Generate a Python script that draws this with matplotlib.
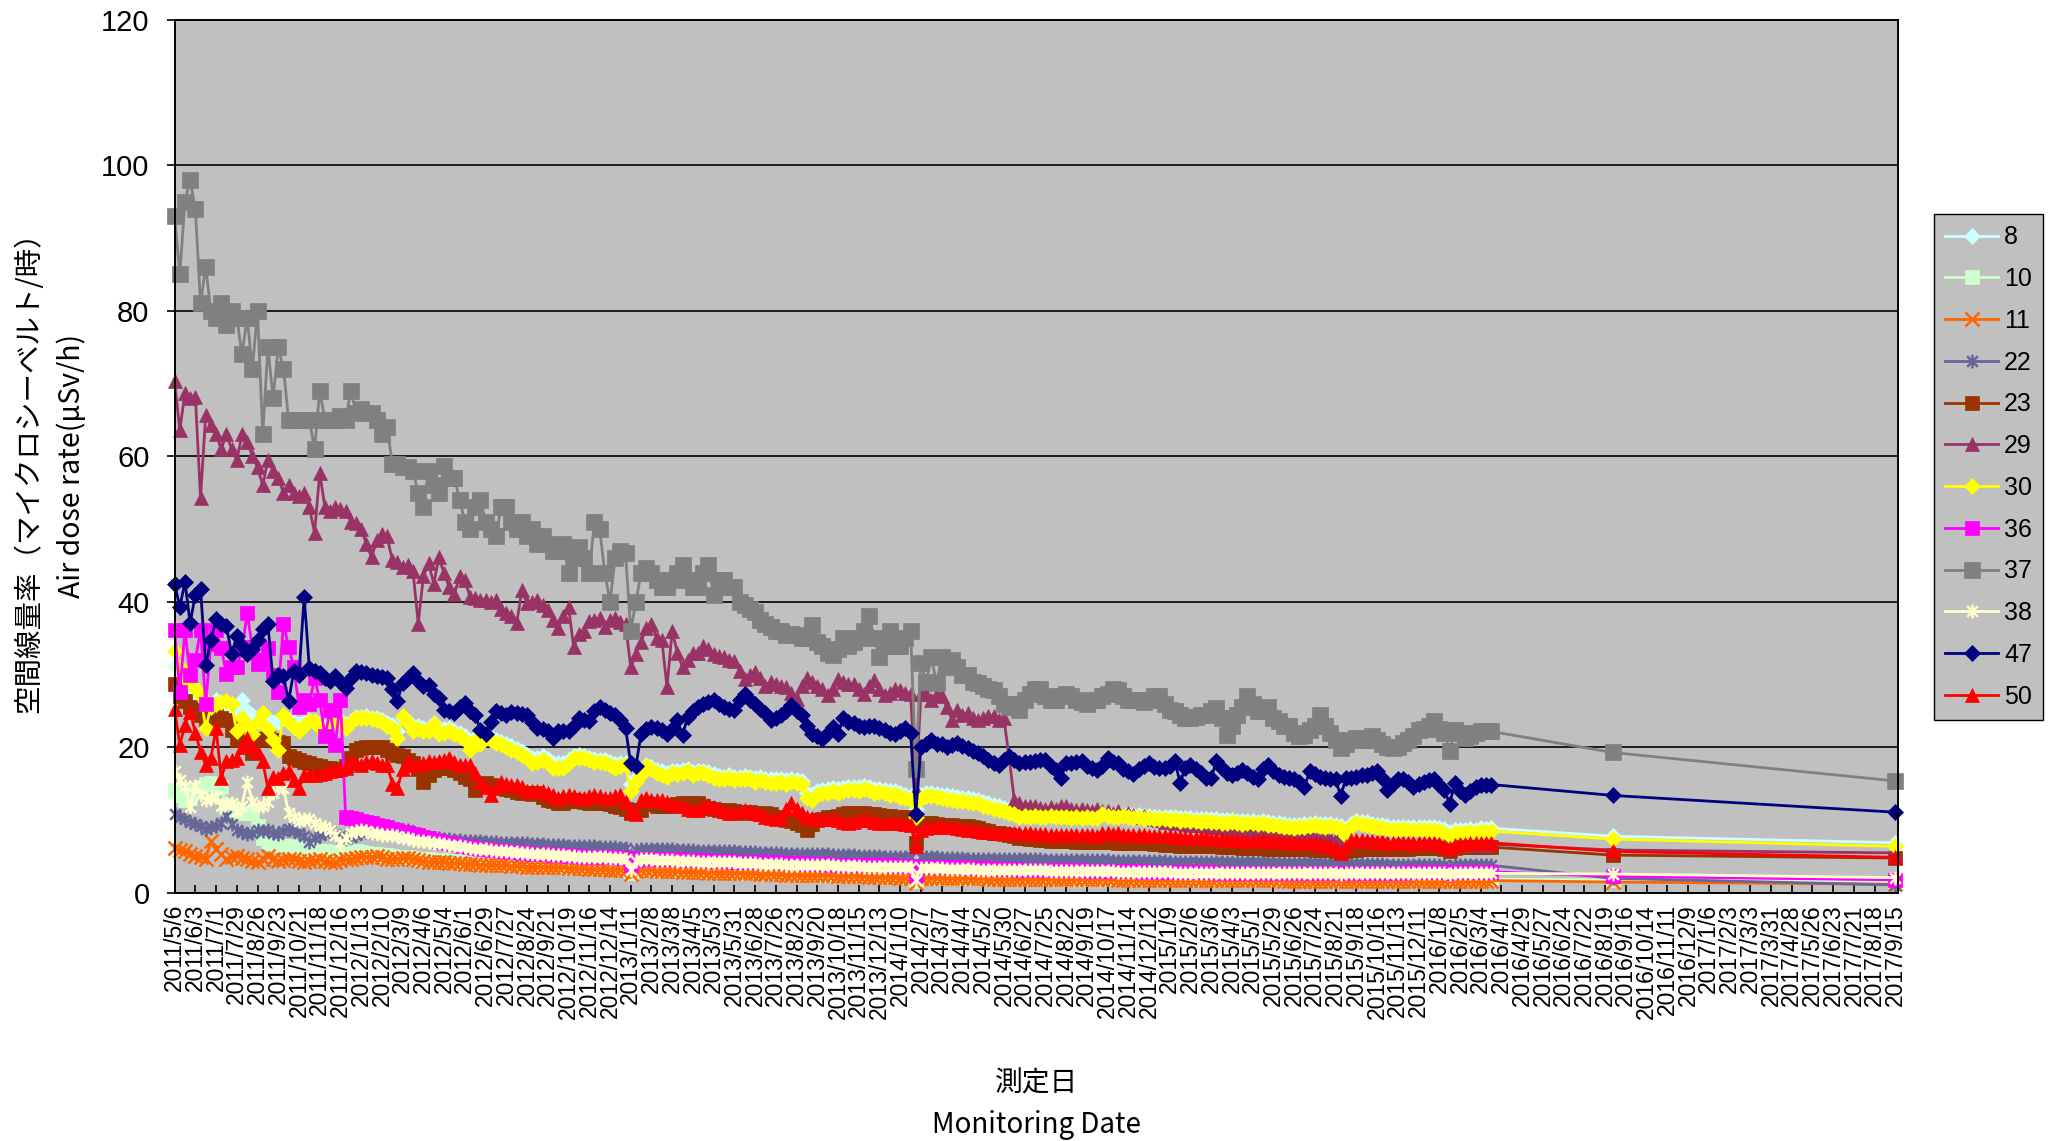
import pandas as pd
import matplotlib
matplotlib.use("Agg")
import matplotlib.pyplot as plt
from matplotlib.path import Path

plt.rcParams['font.family'] = ['Liberation Sans', 'Noto Sans CJK JP', 'DejaVu Sans']

# -------------------------
# Data: weekly readings from 2011/5/6 (255 weeks), then two later readings
# -------------------------
first_day = "2011-05-06"
n_weekly = 255
late_dates = ["2016-08-29", "2017-09-14"]
tick_first, tick_last = "2011-05-06", "2017-09-15"

stations = ["8", "10", "11", "22", "23", "29", "30", "36", "37", "38", "47", "50"]
colors = ["#CCFFFF", "#CCFFCC", "#FF6600", "#666699", "#993300", "#993366",
          "#FFFF00", "#FF00FF", "#808080", "#FFFFCC", "#000080", "#FF0000"]

s8 = [
    31.2, 29.0, 28.0, 27.3, 27.0, 26.5, 26.0, 25.8, 26.5, 26.0, 25.5, 25.0, 24.8, 26.5, 25.0,
    24.5, 24.0, 24.2, 23.8, 23.5, 23.5, 24.0, 23.8, 23.5, 23.2, 23.5, 23.8, 23.6, 23.2, 22.8,
    23.4, 24.0, 23.7, 23.2, 23.6, 24.2, 24.2, 24.3, 24.1, 24.0, 23.8, 23.4, 23.1, 22.2, 24.0,
    23.6, 22.8, 22.9, 22.6, 22.7, 23.3, 22.4, 22.5, 22.6, 22.3, 22.0, 21.6, 20.8, 21.3, 21.0,
    21.9, 21.4, 21.0, 20.8, 20.5, 20.2, 19.8, 19.5, 19.0, 18.5, 18.6, 18.8, 18.4, 17.9, 17.8,
    17.8, 18.2, 18.8, 18.9, 18.8, 18.6, 18.4, 18.3, 18.2, 18.0, 17.7, 17.8, 17.9, 15.0, 15.8,
    16.8, 17.6, 17.3, 16.9, 16.7, 16.5, 16.8, 16.7, 16.9, 17.0, 16.6, 16.8, 16.8, 16.6, 16.3,
    16.1, 16.0, 16.2, 16.0, 16.0, 16.1, 16.0, 15.8, 15.9, 15.7, 15.6, 15.6, 15.7, 15.5, 15.6,
    15.5, 15.4, 13.8, 13.6, 14.0, 14.2, 14.3, 14.4, 14.3, 14.4, 14.6, 14.6, 14.5, 14.7, 14.6,
    14.3, 14.3, 14.1, 14.0, 14.0, 13.7, 13.5, 13.3, 11.5, 13.4, 13.7, 13.7, 13.6, 13.5, 13.4,
    13.3, 13.2, 13.1, 13.0, 12.9, 12.8, 12.5, 12.3, 12.1, 11.9, 11.7, 11.5, 11.3, 11.1, 11.1,
    11.0, 11.1, 11.0, 10.9, 11.0, 10.9, 10.9, 10.9, 10.8, 10.8, 10.7, 10.8, 10.7, 10.7, 11.0,
    10.9, 10.9, 10.8, 10.9, 10.8, 10.7, 10.7, 10.6, 10.6, 10.5, 10.5, 10.5, 10.4, 10.4, 10.3,
    10.3, 10.3, 10.2, 10.2, 10.2, 10.1, 10.1, 10.0, 10.0, 10.0, 9.9, 9.9, 9.9, 9.9, 9.8,
    9.9, 9.7, 9.6, 9.6, 9.5, 9.4, 9.3, 9.4, 9.5, 9.5, 9.6, 9.5, 9.5, 9.5, 9.3,
    9.2, 8.6, 9.5, 9.9, 9.8, 9.7, 9.5, 9.4, 9.3, 9.2, 9.1, 9.1, 9.1, 9.0, 9.1,
    9.0, 9.1, 9.1, 9.0, 8.9, 8.8, 8.4, 8.6, 8.7, 8.6, 8.8, 8.7, 8.9, 8.8, 8.9,
    7.8, 6.9,
]
s10 = [
    14.2, 13.5, 12.8, 13.0, 14.0, 14.5, 15.0, 15.1, 15.0, 14.5, 11.8, 11.5, 11.0, 11.0, 11.0,
    11.0, 9.2, 7.5, 7.0, 6.8, 6.6, 6.5, 6.4, 6.3, 6.2, 6.1, 6.0, 5.9, 5.8, 5.7,
    5.6, 5.5, 5.5, 5.6, 5.6, 5.7, 5.6, 5.5, 5.4, 5.3, 5.2, 5.2, 5.1, 5.0, 5.0,
    4.9, 4.8, 4.7, 4.6, 4.6, 4.5, 4.5, 4.5, 4.4, 4.4, 4.3, 4.3, 4.3, 4.2, 4.2,
    4.2, 4.1, 4.1, 4.1, 4.0, 4.0, 4.0, 3.9, 3.9, 3.9, 3.8, 3.8, 3.8, 3.7, 3.7,
    3.7, 3.6, 3.6, 3.6, 3.6, 3.5, 3.5, 3.5, 3.5, 3.4, 3.4, 3.4, 3.3, 2.8, 3.2,
    3.3, 3.3, 3.3, 3.2, 3.2, 3.2, 3.2, 3.1, 3.1, 3.1, 3.1, 3.0, 3.0, 3.0, 3.0,
    3.0, 2.9, 2.9, 2.9, 2.9, 2.8, 2.8, 2.8, 2.8, 2.8, 2.7, 2.7, 2.7, 2.7, 2.6,
    2.6, 2.6, 2.6, 2.6, 2.5, 2.5, 2.5, 2.5, 2.5, 2.4, 2.4, 2.4, 2.4, 2.4, 2.3,
    2.3, 2.3, 2.3, 2.3, 2.3, 2.2, 2.2, 2.2, 1.6, 2.2, 2.2, 2.2, 2.1, 2.1, 2.1,
    2.1, 2.1, 2.1, 2.1, 2.0, 2.0, 2.0, 2.0, 2.0, 2.0, 2.0, 2.0, 2.0, 2.0, 2.0,
    2.0, 2.0, 2.0, 2.0, 2.0, 2.0, 1.9, 1.9, 1.9, 1.9, 1.9, 1.9, 1.9, 1.9, 1.9,
    1.9, 1.9, 1.9, 1.9, 1.9, 1.9, 1.9, 1.9, 1.9, 1.9, 1.9, 1.9, 1.9, 1.9, 1.9,
    1.9, 1.9, 1.9, 1.9, 1.9, 1.9, 1.9, 1.9, 1.9, 1.9, 1.9, 1.9, 1.9, 1.9, 1.9,
    1.9, 1.9, 1.9, 1.9, 1.9, 1.9, 1.9, 1.9, 1.9, 1.9, 1.9, 1.9, 1.9, 1.9, 1.9,
    1.8, 1.9, 1.9, 1.9, 1.9, 1.9, 1.9, 1.9, 1.9, 1.9, 1.9, 1.9, 1.9, 1.9, 1.9,
    1.9, 1.9, 1.9, 1.9, 1.9, 1.9, 1.8, 1.9, 1.9, 1.9, 1.9, 1.9, 1.9, 1.9, 1.9,
    1.8, 1.5,
]
s11 = [
    6.2, 5.9, 5.7, 5.3, 5.1, 4.9, 4.6, 7.1, 6.0, 5.3, 4.6, 4.9, 5.1, 4.8, 4.6,
    4.4, 4.2, 4.6, 5.1, 4.7, 4.4, 4.5, 4.6, 4.6, 4.4, 4.2, 4.4, 4.5, 4.6, 4.4,
    4.2, 4.3, 4.5, 4.6, 4.7, 4.8, 4.9, 4.9, 5.0, 5.1, 4.9, 4.7, 4.6, 4.7, 4.8,
    4.8, 4.6, 4.5, 4.4, 4.3, 4.3, 4.2, 4.2, 4.1, 4.1, 4.1, 4.0, 4.0, 4.0, 3.9,
    3.9, 3.9, 3.8, 3.8, 3.8, 3.7, 3.7, 3.7, 3.6, 3.6, 3.6, 3.6, 3.5, 3.5, 3.5,
    3.5, 3.4, 3.4, 3.4, 3.4, 3.3, 3.3, 3.3, 3.3, 3.2, 3.2, 3.2, 3.2, 2.6, 3.0,
    3.1, 3.1, 3.1, 3.0, 3.0, 3.0, 3.0, 3.0, 2.9, 2.9, 2.9, 2.9, 2.9, 2.8, 2.8,
    2.8, 2.8, 2.8, 2.7, 2.7, 2.7, 2.7, 2.7, 2.6, 2.6, 2.6, 2.6, 2.6, 2.5, 2.5,
    2.5, 2.5, 2.5, 2.4, 2.4, 2.4, 2.4, 2.4, 2.3, 2.3, 2.3, 2.3, 2.3, 2.3, 2.2,
    2.2, 2.2, 2.2, 2.2, 2.2, 2.1, 2.1, 2.1, 1.4, 2.1, 2.1, 2.1, 2.0, 2.0, 2.0,
    2.0, 2.0, 2.0, 2.0, 2.0, 2.0, 2.0, 1.9, 1.9, 1.9, 1.9, 1.9, 1.9, 1.9, 1.9,
    1.9, 1.9, 1.9, 1.9, 1.9, 1.9, 1.9, 1.9, 1.9, 1.9, 1.9, 1.9, 1.9, 1.9, 1.9,
    1.9, 1.9, 1.8, 1.8, 1.8, 1.8, 1.8, 1.8, 1.8, 1.8, 1.8, 1.8, 1.8, 1.8, 1.8,
    1.8, 1.8, 1.8, 1.8, 1.8, 1.8, 1.8, 1.8, 1.8, 1.8, 1.8, 1.8, 1.8, 1.8, 1.8,
    1.8, 1.8, 1.8, 1.8, 1.7, 1.7, 1.7, 1.7, 1.7, 1.7, 1.7, 1.7, 1.7, 1.7, 1.7,
    1.6, 1.7, 1.7, 1.7, 1.7, 1.7, 1.7, 1.7, 1.7, 1.7, 1.7, 1.7, 1.7, 1.7, 1.7,
    1.7, 1.7, 1.7, 1.7, 1.7, 1.7, 1.6, 1.7, 1.7, 1.7, 1.7, 1.7, 1.7, 1.7, 1.7,
    1.5, 1.2,
]
s22 = [
    10.9, 10.5, 10.2, 9.8, 9.5, 9.2, 8.8, 9.0, 9.2, 9.6, 10.6, 9.5, 8.6, 8.4, 8.1,
    8.3, 8.6, 8.5, 8.6, 8.3, 8.1, 8.5, 8.8, 8.5, 8.3, 7.8, 7.0, 7.5, 7.9, 8.2,
    8.6, 8.1, 7.8, 7.4, 7.7, 7.9, 8.2, 8.5, 8.8, 8.8, 8.6, 9.2, 8.8, 8.5, 8.3,
    8.6, 8.2, 8.0, 7.8, 7.7, 7.6, 7.5, 7.4, 7.4, 7.3, 7.3, 7.2, 7.2, 7.1, 7.1,
    7.0, 7.0, 7.0, 6.9, 6.9, 6.9, 6.8, 6.8, 6.8, 6.7, 6.7, 6.7, 6.6, 6.6, 6.6,
    6.6, 6.5, 6.5, 6.5, 6.4, 6.4, 6.4, 6.3, 6.3, 6.3, 6.3, 6.2, 6.2, 5.2, 5.9,
    6.1, 6.1, 6.1, 6.0, 6.0, 6.0, 6.0, 5.9, 5.9, 5.9, 5.9, 5.8, 5.8, 5.8, 5.8,
    5.7, 5.7, 5.7, 5.7, 5.6, 5.6, 5.6, 5.6, 5.5, 5.5, 5.5, 5.5, 5.5, 5.4, 5.4,
    5.4, 5.4, 5.3, 5.3, 5.3, 5.3, 5.3, 5.2, 5.2, 5.2, 5.2, 5.2, 5.1, 5.1, 5.1,
    5.1, 5.1, 5.0, 5.0, 5.0, 5.0, 5.0, 5.0, 3.5, 4.9, 4.9, 4.9, 4.9, 4.8, 4.8,
    4.8, 4.8, 4.8, 4.7, 4.7, 4.7, 4.7, 4.7, 4.6, 4.6, 4.6, 4.6, 4.6, 4.6, 4.6,
    4.6, 4.6, 4.6, 4.5, 4.5, 4.5, 4.5, 4.5, 4.5, 4.5, 4.5, 4.5, 4.5, 4.5, 4.5,
    4.5, 4.4, 4.4, 4.4, 4.4, 4.4, 4.4, 4.4, 4.4, 4.4, 4.4, 4.4, 4.3, 4.3, 4.3,
    4.3, 4.3, 4.3, 4.3, 4.3, 4.3, 4.3, 4.2, 4.2, 4.2, 4.2, 4.2, 4.2, 4.2, 4.2,
    4.2, 4.2, 4.1, 4.1, 4.1, 4.1, 4.1, 4.1, 4.1, 4.1, 4.1, 4.1, 4.1, 4.0, 4.0,
    3.8, 4.0, 4.0, 4.0, 4.0, 4.0, 4.0, 4.0, 4.0, 3.9, 3.9, 3.9, 3.9, 3.9, 3.9,
    3.9, 3.9, 3.9, 3.9, 3.9, 3.8, 3.6, 3.8, 3.8, 3.8, 3.8, 3.8, 3.8, 3.8, 3.8,
    2.0, 1.1,
]
s23 = [
    28.7, 27.0, 26.4, 25.5, 25.2, 24.5, 23.8, 24.2, 24.7, 24.0, 23.8, 22.4, 21.0, 22.9, 20.5,
    19.2, 21.0, 21.2, 21.5, 21.0, 20.8, 20.6, 18.8, 18.5, 18.3, 18.0, 17.8, 17.6, 17.4, 17.2,
    17.1, 16.9, 17.0, 17.4, 18.5, 19.7, 19.9, 20.1, 20.1, 20.0, 20.1, 19.7, 19.2, 19.0, 18.8,
    18.3, 17.8, 17.0, 15.3, 16.2, 16.9, 17.2, 17.4, 17.1, 16.9, 16.5, 16.0, 15.6, 14.2, 14.8,
    15.1, 14.8, 14.6, 14.4, 14.3, 14.2, 13.9, 13.7, 13.7, 13.6, 13.7, 13.2, 12.8, 12.6, 12.4,
    12.4, 12.6, 12.8, 12.7, 12.5, 12.4, 12.4, 12.4, 12.4, 12.2, 11.9, 11.8, 11.5, 11.0, 11.4,
    11.4, 12.3, 12.2, 12.0, 11.9, 11.9, 12.1, 12.2, 12.3, 12.4, 12.4, 12.3, 12.0, 11.7, 11.5,
    11.4, 11.3, 11.4, 11.2, 11.1, 11.0, 11.1, 11.0, 10.8, 11.0, 10.8, 10.5, 10.3, 10.0, 9.9,
    9.6, 9.4, 8.7, 9.5, 10.0, 10.2, 10.4, 10.5, 10.6, 10.8, 11.0, 11.0, 11.0, 11.0, 10.9,
    10.8, 10.7, 10.6, 10.6, 10.5, 10.5, 10.4, 10.3, 6.9, 9.4, 9.6, 9.6, 9.5, 9.4, 9.3,
    9.3, 9.2, 9.2, 9.2, 9.0, 8.9, 8.7, 8.5, 8.3, 8.2, 8.1, 8.0, 7.8, 7.6, 7.5,
    7.4, 7.4, 7.3, 7.3, 7.2, 7.2, 7.1, 7.1, 7.1, 7.0, 7.0, 7.0, 7.0, 7.0, 7.0,
    7.0, 7.0, 6.9, 6.9, 6.9, 6.9, 6.8, 6.8, 6.8, 6.7, 6.7, 6.6, 6.6, 6.6, 6.5,
    6.5, 6.5, 6.5, 6.4, 6.4, 6.4, 6.4, 6.3, 6.3, 6.3, 6.3, 6.2, 6.2, 6.2, 6.2,
    6.2, 6.1, 6.1, 6.1, 6.1, 6.0, 6.0, 6.0, 6.0, 6.0, 5.9, 5.9, 5.9, 5.9, 5.8,
    5.6, 5.8, 5.9, 5.9, 6.0, 6.0, 6.0, 6.0, 6.1, 6.1, 6.1, 6.1, 6.1, 6.1, 6.2,
    6.2, 6.2, 6.2, 6.2, 6.2, 6.1, 5.8, 6.2, 6.3, 6.3, 6.3, 6.3, 6.3, 6.3, 6.3,
    5.2, 4.8,
]
s29 = [
    70.3, 63.6, 68.7, 68.0, 68.2, 54.3, 65.7, 64.3, 63.0, 61.0, 63.0, 61.0, 59.5, 63.0, 62.0,
    60.0, 58.5, 56.0, 59.5, 58.0, 57.0, 55.0, 56.0, 55.0, 54.5, 55.0, 53.0, 49.5, 57.7, 53.0,
    52.5, 53.0, 52.7, 52.5, 51.0, 50.8, 50.0, 48.0, 46.1, 48.5, 49.3, 49.0, 45.7, 45.5, 44.8,
    45.0, 44.2, 37.0, 43.5, 45.3, 42.5, 46.1, 43.9, 42.0, 41.1, 43.5, 43.0, 40.7, 40.5, 40.3,
    40.3, 40.0, 40.3, 39.0, 38.4, 38.0, 37.1, 41.6, 39.8, 40.0, 40.3, 39.5, 38.9, 37.5, 36.4,
    38.0, 39.3, 33.8, 35.6, 36.0, 37.3, 37.5, 37.8, 36.6, 37.5, 37.8, 37.2, 37.0, 31.0, 32.8,
    34.5, 36.4, 37.0, 35.0, 34.8, 28.3, 36.0, 33.0, 31.0, 32.0, 33.0, 33.0, 34.0, 33.5, 32.8,
    32.5, 32.4, 32.0, 31.9, 30.5, 29.4, 30.0, 30.3, 29.5, 28.5, 29.0, 28.7, 28.5, 28.3, 27.5,
    26.7, 28.5, 29.6, 29.0, 28.5, 28.0, 27.2, 28.0, 29.4, 29.0, 28.7, 28.7, 28.0, 27.4, 28.5,
    29.2, 28.0, 27.2, 27.5, 28.0, 27.9, 27.5, 27.4, 14.1, 27.4, 27.4, 26.5, 27.4, 27.0, 25.5,
    23.8, 25.2, 24.5, 24.7, 24.0, 23.8, 24.0, 24.3, 24.3, 23.8, 24.0, 18.7, 12.8, 12.3, 12.0,
    11.9, 12.0, 11.7, 11.5, 11.8, 11.6, 11.9, 11.9, 11.5, 11.4, 11.6, 11.4, 11.3, 11.5, 11.2,
    11.3, 11.0, 11.2, 10.8, 11.0, 10.7, 10.5, 10.6, 10.3, 10.2, 10.0, 9.8, 9.9, 9.6, 9.7,
    9.5, 9.4, 9.3, 9.4, 9.2, 9.0, 9.1, 8.9, 8.8, 8.9, 8.7, 8.6, 8.7, 8.5, 8.4,
    8.5, 8.3, 8.2, 8.3, 8.1, 8.0, 8.1, 7.9, 7.8, 7.9, 7.7, 7.6, 7.7, 7.5, 7.4,
    7.2, 7.4, 7.3, 7.2, 7.3, 7.1, 7.2, 7.0, 7.1, 7.0, 6.9, 7.0, 6.9, 6.8, 6.9,
    6.8, 6.9, 6.8, 6.7, 6.8, 6.6, 6.4, 6.7, 6.6, 6.7, 6.6, 6.7, 6.7, 6.6, 6.7,
    5.9, 5.5,
]
s30 = [
    33.3, 31.0, 29.6, 28.9, 28.2, 27.0, 22.7, 25.5, 25.9, 26.2, 26.4, 25.9, 22.2, 24.1, 23.0,
    21.8, 23.5, 24.7, 22.5, 21.0, 19.7, 24.5, 23.5, 22.8, 22.2, 23.0, 23.6, 23.6, 22.7, 21.8,
    23.0, 24.1, 23.5, 22.7, 23.5, 24.1, 24.0, 24.1, 23.9, 23.8, 23.5, 23.0, 22.7, 21.3, 24.3,
    23.3, 22.2, 22.5, 22.2, 22.2, 23.2, 21.8, 22.0, 22.2, 21.8, 21.5, 21.0, 19.7, 20.9, 20.5,
    21.8, 21.0, 20.6, 20.4, 20.0, 19.7, 19.3, 19.0, 18.5, 17.8, 18.0, 18.3, 17.8, 17.2, 17.2,
    17.2, 17.8, 18.5, 18.5, 18.5, 18.2, 18.0, 18.0, 17.8, 17.6, 17.2, 17.4, 17.6, 14.0, 15.2,
    16.2, 17.4, 17.0, 16.5, 16.2, 16.0, 16.5, 16.3, 16.5, 16.7, 16.2, 16.5, 16.5, 16.2, 15.8,
    15.6, 15.6, 15.8, 15.5, 15.6, 15.7, 15.6, 15.3, 15.5, 15.2, 15.1, 15.1, 15.3, 15.0, 15.2,
    15.1, 15.0, 13.0, 12.8, 13.5, 13.7, 13.8, 14.0, 13.8, 14.0, 14.2, 14.1, 14.0, 14.3, 14.2,
    13.8, 13.9, 13.7, 13.5, 13.6, 13.2, 13.0, 12.8, 10.5, 12.9, 13.3, 13.3, 13.2, 13.0, 12.9,
    12.8, 12.7, 12.6, 12.5, 12.4, 12.3, 12.0, 11.8, 11.6, 11.4, 11.2, 11.0, 10.8, 10.5, 10.6,
    10.5, 10.6, 10.5, 10.4, 10.6, 10.5, 10.4, 10.5, 10.3, 10.4, 10.3, 10.4, 10.3, 10.3, 10.8,
    10.6, 10.5, 10.4, 10.6, 10.5, 10.3, 10.4, 10.2, 10.3, 10.1, 10.1, 10.2, 10.0, 10.1, 9.9,
    10.0, 9.9, 9.9, 9.8, 9.9, 9.7, 9.8, 9.6, 9.6, 9.7, 9.6, 9.5, 9.6, 9.6, 9.5,
    9.6, 9.4, 9.3, 9.2, 9.1, 9.0, 8.9, 9.0, 9.1, 9.2, 9.3, 9.2, 9.1, 9.2, 9.0,
    8.8, 7.8, 9.2, 9.6, 9.5, 9.4, 9.2, 9.0, 8.9, 8.8, 8.7, 8.7, 8.8, 8.6, 8.7,
    8.6, 8.7, 8.7, 8.6, 8.5, 8.3, 7.8, 8.2, 8.3, 8.2, 8.4, 8.3, 8.5, 8.4, 8.5,
    7.4, 6.4,
]
s36 = [
    36.1, 27.6, 36.1, 29.9, 32.0, 36.1, 26.0, 34.2, 36.1, 33.6, 30.1, 31.0, 31.0, 33.5, 38.4,
    33.8, 31.5, 32.0, 33.6, 30.0, 27.6, 37.0, 33.8, 31.0, 25.6, 26.5, 26.0, 29.5, 26.5, 21.5,
    25.1, 20.3, 26.5, 10.5, 10.3, 10.1, 9.9, 9.8, 9.6, 9.4, 9.2, 9.0, 8.8, 8.6, 8.4,
    8.2, 8.1, 7.9, 7.7, 7.5, 7.3, 7.1, 6.9, 6.8, 6.7, 6.5, 6.4, 6.3, 6.2, 6.1,
    6.0, 5.9, 5.9, 5.8, 5.7, 5.6, 5.6, 5.5, 5.5, 5.4, 5.4, 5.3, 5.3, 5.2, 5.2,
    5.2, 5.1, 5.1, 5.1, 5.0, 5.0, 5.0, 4.9, 4.9, 4.9, 4.9, 4.8, 4.8, 3.8, 4.5,
    4.7, 4.7, 4.7, 4.7, 4.6, 4.6, 4.6, 4.6, 4.5, 4.5, 4.5, 4.5, 4.5, 4.4, 4.4,
    4.4, 4.4, 4.4, 4.3, 4.3, 4.3, 4.3, 4.2, 4.2, 4.2, 4.2, 4.2, 4.1, 4.1, 4.1,
    4.1, 4.1, 4.0, 4.0, 4.0, 4.0, 4.0, 3.9, 3.9, 3.9, 3.9, 3.9, 3.9, 3.8, 3.8,
    3.8, 3.8, 3.8, 3.8, 3.7, 3.7, 3.7, 3.7, 2.4, 3.6, 3.6, 3.6, 3.6, 3.5, 3.5,
    3.5, 3.5, 3.5, 3.4, 3.4, 3.4, 3.4, 3.4, 3.3, 3.3, 3.3, 3.3, 3.3, 3.2, 3.2,
    3.2, 3.2, 3.2, 3.2, 3.1, 3.1, 3.1, 3.1, 3.1, 3.1, 3.1, 3.0, 3.0, 3.0, 3.0,
    3.0, 3.0, 3.0, 3.0, 3.0, 3.0, 3.0, 2.9, 2.9, 2.9, 2.9, 2.9, 2.9, 2.9, 2.9,
    2.9, 2.9, 2.9, 2.9, 2.9, 2.9, 2.8, 2.8, 2.8, 2.8, 2.8, 2.8, 2.8, 2.8, 2.8,
    2.8, 2.8, 2.8, 2.8, 2.8, 2.8, 2.8, 2.8, 2.8, 2.8, 2.8, 2.8, 2.8, 2.8, 2.8,
    2.7, 2.8, 2.8, 2.8, 2.8, 2.8, 2.8, 2.8, 2.8, 2.8, 2.8, 2.8, 2.8, 2.9, 2.9,
    2.9, 2.9, 2.9, 2.9, 2.9, 2.9, 2.7, 2.9, 2.9, 2.9, 2.9, 2.9, 2.9, 2.9, 2.9,
    2.3, 1.8,
]
s37 = [
    93.0, 85.0, 95.0, 98.0, 94.0, 81.0, 86.0, 80.0, 79.0, 81.0, 78.0, 80.0, 79.0, 74.0, 79.0,
    72.0, 80.0, 63.0, 75.0, 68.0, 75.0, 72.0, 65.0, 65.0, 65.0, 65.0, 65.0, 61.0, 69.0, 65.0,
    65.0, 65.0, 65.5, 65.0, 69.0, 66.0, 66.5, 66.0, 66.0, 65.0, 63.0, 64.0, 59.0, 59.0, 58.5,
    58.5, 58.0, 55.0, 53.0, 58.0, 56.0, 55.0, 58.6, 57.0, 57.0, 54.0, 51.0, 50.0, 53.0, 54.0,
    51.0, 50.0, 49.0, 53.0, 53.0, 51.0, 50.0, 51.0, 49.0, 50.0, 48.0, 49.0, 48.0, 47.0, 47.0,
    48.0, 44.0, 46.0, 47.6, 46.0, 44.0, 51.0, 50.0, 44.0, 40.0, 46.0, 47.0, 46.7, 36.0, 40.0,
    44.0, 44.7, 44.0, 43.0, 42.0, 42.0, 43.0, 44.0, 45.0, 43.0, 42.0, 42.0, 44.0, 45.0, 41.0,
    43.0, 43.0, 42.0, 42.0, 40.0, 39.5, 39.0, 38.6, 37.5, 37.0, 36.5, 36.0, 36.0, 35.5, 35.6,
    35.5, 35.0, 35.0, 36.8, 34.5, 34.0, 33.0, 32.7, 33.5, 35.0, 34.0, 34.5, 35.0, 36.0, 38.0,
    35.0, 32.4, 34.0, 36.0, 34.0, 33.9, 35.0, 36.0, 17.0, 31.6, 29.0, 32.4, 28.8, 32.4, 31.0,
    32.0, 31.0, 30.0, 30.0, 29.0, 28.8, 28.5, 28.0, 27.9, 27.0, 26.0, 25.6, 26.0, 25.2, 26.5,
    27.4, 28.0, 28.0, 27.0, 26.5, 26.5, 27.0, 27.4, 27.0, 26.5, 26.3, 26.0, 26.5, 26.5, 27.0,
    27.4, 28.0, 27.9, 27.0, 26.5, 26.5, 26.5, 26.3, 26.5, 27.0, 27.0, 26.0, 25.2, 25.0, 24.5,
    24.0, 24.0, 24.2, 24.5, 24.5, 25.0, 25.4, 24.0, 21.7, 23.0, 24.5, 25.5, 27.0, 26.0, 25.0,
    25.0, 25.6, 24.0, 23.6, 23.0, 22.9, 22.0, 21.5, 21.7, 22.4, 23.0, 24.5, 23.0, 22.0, 21.0,
    19.9, 20.5, 21.0, 21.3, 21.0, 21.0, 21.5, 21.0, 20.5, 20.0, 19.9, 20.0, 20.6, 21.0, 21.5,
    22.4, 22.5, 23.0, 23.6, 22.5, 22.0, 19.5, 22.4, 22.0, 21.3, 21.5, 22.0, 22.2, 22.2, 22.2,
    19.3, 15.4,
]
s38 = [
    16.7, 15.5, 14.7, 11.8, 14.7, 13.5, 12.8, 13.0, 13.2, 11.9, 12.4, 12.4, 11.2, 12.0, 15.3,
    12.5, 11.9, 11.9, 12.5, 13.7, 14.4, 14.4, 11.0, 10.5, 9.9, 10.1, 10.1, 9.6, 9.2, 9.0,
    8.7, 8.0, 6.9, 7.5, 8.3, 8.5, 8.7, 8.5, 8.3, 8.2, 8.0, 7.9, 8.0, 7.8, 7.6,
    7.5, 7.3, 7.2, 7.1, 7.0, 6.9, 6.8, 6.7, 6.6, 6.5, 6.4, 6.3, 6.2, 6.1, 6.0,
    6.0, 5.9, 5.8, 5.8, 5.7, 5.6, 5.6, 5.5, 5.5, 5.4, 5.4, 5.3, 5.3, 5.2, 5.2,
    5.2, 5.1, 5.1, 5.0, 5.0, 5.0, 4.9, 4.9, 4.9, 4.8, 4.8, 4.8, 4.7, 3.2, 4.4,
    4.6, 4.6, 4.6, 4.5, 4.5, 4.5, 4.5, 4.4, 4.4, 4.4, 4.4, 4.3, 4.3, 4.3, 4.3,
    4.2, 4.2, 4.2, 4.2, 4.1, 4.1, 4.1, 4.1, 4.0, 4.0, 4.0, 4.0, 4.0, 3.9, 3.9,
    3.9, 3.9, 3.9, 3.8, 3.8, 3.8, 3.8, 3.8, 3.7, 3.7, 3.7, 3.7, 3.7, 3.6, 3.6,
    3.6, 3.6, 3.6, 3.6, 3.5, 3.5, 3.5, 3.5, 1.8, 3.4, 3.4, 3.4, 3.4, 3.4, 3.3,
    3.3, 3.3, 3.3, 3.3, 3.3, 3.2, 3.2, 3.2, 3.2, 3.2, 3.2, 3.1, 3.1, 3.1, 3.1,
    3.1, 3.1, 3.1, 3.1, 3.0, 3.0, 3.0, 3.0, 3.0, 3.0, 3.0, 3.0, 3.0, 3.0, 3.0,
    3.0, 3.0, 2.9, 2.9, 2.9, 2.9, 2.9, 2.9, 2.9, 2.9, 2.9, 2.9, 2.9, 2.8, 2.8,
    2.8, 2.8, 2.8, 2.8, 2.8, 2.8, 2.8, 2.8, 2.8, 2.8, 2.8, 2.7, 2.7, 2.7, 2.7,
    2.7, 2.7, 2.7, 2.7, 2.7, 2.7, 2.7, 2.7, 2.7, 2.7, 2.7, 2.7, 2.7, 2.7, 2.7,
    2.6, 2.7, 2.7, 2.7, 2.7, 2.7, 2.7, 2.7, 2.7, 2.7, 2.7, 2.7, 2.7, 2.7, 2.7,
    2.7, 2.7, 2.7, 2.7, 2.7, 2.7, 2.6, 2.7, 2.7, 2.7, 2.7, 2.7, 2.7, 2.7, 2.7,
    2.6, 2.1,
]
s47 = [
    42.5, 39.3, 42.7, 37.1, 41.0, 41.8, 31.3, 34.7, 37.6, 37.0, 36.7, 32.8, 35.3, 34.0, 32.8,
    33.5, 34.7, 36.2, 36.9, 29.1, 30.0, 29.8, 26.4, 30.5, 30.0, 40.7, 30.9, 30.5, 30.2, 29.5,
    29.1, 29.8, 29.0, 28.2, 29.5, 30.5, 30.3, 30.2, 30.0, 29.8, 29.7, 29.6, 28.0, 26.4, 28.9,
    29.5, 30.2, 29.1, 28.5, 28.6, 27.3, 26.8, 25.2, 25.0, 24.7, 25.5, 26.1, 25.0, 24.5, 22.4,
    21.9, 23.5, 25.0, 24.7, 24.5, 24.8, 24.7, 24.6, 24.5, 23.5, 22.7, 22.5, 22.2, 21.3, 22.2,
    22.2, 22.2, 23.0, 24.0, 23.8, 23.6, 25.0, 25.6, 25.1, 24.7, 24.5, 23.8, 22.7, 17.8, 17.4,
    21.9, 22.5, 22.8, 22.6, 22.4, 21.9, 22.5, 23.7, 21.7, 24.2, 25.0, 25.6, 26.0, 26.3, 26.5,
    26.0, 25.6, 25.3, 25.1, 26.5, 27.4, 26.5, 26.0, 25.3, 24.7, 23.8, 24.0, 24.4, 25.0, 25.8,
    25.0, 24.4, 23.0, 21.9, 21.5, 21.2, 22.0, 22.8, 21.9, 24.0, 23.5, 23.3, 23.0, 22.8, 23.0,
    23.0, 22.6, 22.4, 22.0, 21.9, 22.3, 22.6, 22.0, 10.9, 20.1, 20.5, 21.0, 20.5, 20.4, 20.1,
    20.3, 20.6, 20.2, 19.9, 19.5, 19.2, 18.8, 18.3, 17.8, 17.6, 18.3, 18.8, 18.2, 17.8, 18.0,
    18.0, 18.1, 18.2, 18.3, 17.5, 16.9, 15.8, 17.8, 17.9, 18.0, 18.1, 17.5, 17.2, 16.9, 17.5,
    18.5, 18.0, 17.8, 17.0, 16.8, 16.4, 17.0, 17.5, 17.8, 17.3, 17.1, 17.1, 17.5, 18.1, 15.1,
    17.2, 17.6, 17.0, 16.5, 15.8, 15.8, 18.1, 17.2, 16.5, 16.2, 16.5, 16.9, 16.5, 16.0, 15.6,
    17.0, 17.6, 16.8, 16.2, 16.0, 15.8, 15.6, 15.2, 14.6, 16.7, 16.4, 16.0, 15.8, 15.6, 15.6,
    13.3, 15.8, 15.8, 16.0, 16.2, 16.2, 16.5, 16.7, 15.8, 14.2, 15.0, 15.6, 15.6, 15.2, 14.6,
    15.0, 15.3, 15.5, 15.6, 14.8, 14.2, 12.2, 15.1, 14.0, 13.5, 14.0, 14.6, 14.8, 14.9, 14.9,
    13.4, 11.1,
]
s50 = [
    25.3, 20.3, 23.1, 24.9, 22.0, 19.4, 17.6, 18.5, 22.6, 15.8, 18.1, 18.3, 18.5, 20.0, 21.3,
    20.0, 19.4, 18.1, 14.4, 16.0, 15.8, 16.5, 16.7, 15.5, 14.4, 16.2, 16.2, 16.2, 16.4, 16.5,
    16.7, 16.9, 17.0, 17.2, 18.1, 17.8, 17.6, 18.0, 18.1, 17.9, 17.6, 17.6, 15.0, 14.4, 17.0,
    18.1, 17.6, 17.6, 17.9, 18.1, 18.0, 18.1, 18.3, 18.5, 18.0, 17.6, 17.6, 17.6, 16.5, 15.3,
    14.5, 13.5, 14.5, 15.3, 15.0, 14.9, 14.9, 14.5, 14.0, 14.0, 14.0, 14.0, 13.8, 13.5, 13.1,
    13.3, 13.5, 13.3, 13.1, 13.1, 13.3, 13.5, 13.3, 13.1, 13.1, 13.3, 13.5, 12.5, 11.2, 10.8,
    12.8, 13.1, 12.8, 12.8, 12.8, 12.5, 12.2, 12.0, 11.9, 11.6, 11.4, 11.4, 11.8, 12.1, 11.8,
    11.5, 11.2, 11.0, 11.0, 11.2, 11.4, 11.2, 11.0, 10.8, 10.5, 10.3, 10.1, 10.5, 11.5, 12.4,
    11.5, 11.0, 10.5, 10.3, 10.1, 10.1, 10.1, 10.1, 10.0, 9.8, 9.6, 9.8, 10.0, 10.1, 10.0,
    9.8, 9.6, 9.6, 9.6, 9.6, 9.6, 9.5, 9.4, 6.4, 8.7, 8.9, 9.0, 9.1, 9.2, 9.1,
    9.0, 8.9, 8.8, 8.7, 8.6, 8.5, 8.4, 8.4, 8.3, 8.2, 8.2, 8.2, 8.2, 8.2, 8.2,
    8.2, 8.1, 8.1, 8.1, 8.0, 8.0, 8.0, 8.0, 8.0, 7.9, 7.9, 7.9, 7.9, 7.8, 8.2,
    8.2, 8.1, 8.2, 8.0, 8.0, 8.0, 7.9, 7.9, 7.8, 7.8, 7.8, 7.8, 7.8, 7.7, 7.7,
    7.6, 7.6, 7.5, 7.5, 7.5, 7.4, 7.4, 7.4, 7.3, 7.3, 7.3, 7.2, 7.2, 7.2, 7.1,
    7.3, 7.2, 7.1, 7.1, 7.0, 7.0, 6.9, 6.9, 6.8, 6.8, 6.8, 6.7, 6.6, 6.5, 6.2,
    5.5, 6.5, 7.3, 7.3, 7.2, 7.1, 7.1, 7.0, 7.0, 6.9, 6.9, 6.9, 6.8, 6.8, 6.8,
    6.9, 6.9, 6.9, 6.8, 6.7, 6.5, 6.2, 6.6, 6.7, 6.7, 6.8, 6.8, 6.9, 6.9, 6.9,
    5.7, 4.9,
]

series = [s8, s10, s11, s22, s23, s29, s30, s36, s37, s38, s47, s50]

# asterisk marker like the spreadsheet one: an X with a vertical bar
star = Path([(-1, -1), (1, 1), (-1, 1), (1, -1), (0, -1.3), (0, 1.3)],
            [Path.MOVETO, Path.LINETO, Path.MOVETO, Path.LINETO, Path.MOVETO, Path.LINETO])
markers = ["D", "s", "x", star, "s", "^", "D", "s", "s", star, "D", "^"]
msizes = [8, 10.5, 9.5, 10, 10.5, 10.5, 8, 10.5, 11, 10, 8, 10.5]

dates = list(pd.date_range(first_day, periods=n_weekly, freq="7D")) + list(pd.to_datetime(late_dates))
tick_dates = pd.date_range(tick_first, tick_last, freq="28D")
tick_labels = [f"{d.year}/{d.month}/{d.day}" for d in tick_dates]

# -------------------------
# Plot
# -------------------------
fig = plt.figure(figsize=(20.59, 11.41), dpi=100)
ax = fig.add_axes([0.0848, 0.2174, 0.8368, 0.7654])
ax.set_facecolor("#C0C0C0")

for name, vals, c, m, ms in zip(stations, series, colors, markers, msizes):
    open_marker = m in ("x",) or isinstance(m, Path)
    ax.plot(dates[:len(vals)], vals, color=c, lw=2.0, marker=m, markersize=ms,
            markerfacecolor=c, markeredgecolor=c,
            markeredgewidth=1.8 if open_marker else 0.5,
            label=name, clip_on=False)

ax.set_ylim(0, 120)
ax.set_yticks(range(0, 121, 20))
ax.set_xlim(pd.Timestamp(tick_first), pd.Timestamp(tick_last) + pd.Timedelta(days=3))
ax.set_xticks(tick_dates)
ax.set_xticklabels(tick_labels, rotation=90, va="top", ha="center", fontsize=16.5)
ax.tick_params(axis="x", direction="in", length=6, width=1.2, pad=8)
ax.tick_params(axis="y", direction="out", length=6, width=1.2, pad=12, labelsize=21)

ax.yaxis.grid(True, color="black", lw=1.2)
ax.set_axisbelow(True)
for sp in ax.spines.values():
    sp.set_color("black")
    sp.set_linewidth(1.4)

jp = ["Noto Sans CJK JP", "DejaVu Sans"]
fig.text(0.0141, 0.592, "空間線量率（マイクロシーベルト/時）", rotation=90,
         ha="center", va="center", fontsize=20.5, family=jp)
fig.text(0.035, 0.592, "Air dose rate(μSv/h)", rotation=90,
         ha="center", va="center", fontsize=20.5, family=jp)
fig.text(0.5035, 0.0508, "測定日", ha="center", va="center", fontsize=20, family=jp)
fig.text(0.5035, 0.0140, "Monitoring Date", ha="center", va="center", fontsize=20, family=jp)

leg = ax.legend(loc="upper left", bbox_to_anchor=(0.9393, 0.8124),
                bbox_transform=fig.transFigure, fontsize=18, frameon=True,
                fancybox=False, borderpad=0.45, labelspacing=0.71,
                handlelength=2.1, handletextpad=0.25, borderaxespad=0)
leg.get_frame().set_facecolor("#C0C0C0")
leg.get_frame().set_edgecolor("black")
leg.get_frame().set_linewidth(1.0)
leg.get_frame().set_alpha(1)

fig.savefig("out.png", dpi=100)
